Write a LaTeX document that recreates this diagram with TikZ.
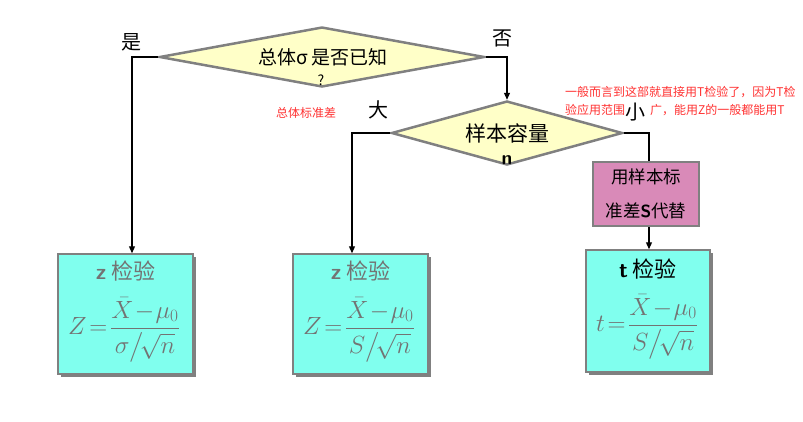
\documentclass[tikz,border=0pt]{standalone}
\usepackage{fontspec}
\usepackage{amsmath}
\usepackage{xcolor}
\setmainfont{Noto Sans CJK SC}
\usetikzlibrary{shapes.geometric,shadows,arrows.meta}

\definecolor{colDiamond}{RGB}{255,255,200}
\definecolor{colTest}{RGB}{128,255,238}
\definecolor{colPink}{RGB}{217,138,184}
\definecolor{colEdge}{RGB}{128,128,128}
\definecolor{colFormula}{RGB}{115,115,115}
\definecolor{colNote}{RGB}{255,50,50}

\begin{document}
\begin{tikzpicture}[x=1pt,y=-1pt,
		decision/.style={diamond,draw=colEdge,line width=2.5pt,fill=colDiamond,inner sep=0pt},
		testbox/.style={rectangle,draw=colEdge,line width=1.5pt,fill=colTest,minimum width=135pt,minimum height=120pt,
			drop shadow={shadow xshift=3pt,shadow yshift=-3pt,fill=colEdge,opacity=1}},
		flow/.style={draw=black,line width=1.2pt,-{Triangle[length=7pt,width=6pt]}},
		big/.style={font=\fontsize{19}{22}\selectfont},
		note/.style={text=colNote,font=\fontsize{12}{14}\selectfont,inner sep=0pt},
		formula/.style={text=colFormula,font=\fontsize{24}{28}\selectfont,inner sep=1pt}]
		\useasboundingbox (0,0) rectangle (803,421);

		% decisions
		\node[decision,minimum width=325pt,minimum height=60pt] (d1) at (322,57) {};
		\node[big] (d1text) at (323,57) {总体σ 是否已知};
		\node[font=\fontsize{14}{16}\selectfont] (d1q) at (321,80) {?};

		\node[decision,minimum width=231pt,minimum height=64pt] (d2) at (507,133) {};
		\node[font=\fontsize{21}{24}\selectfont] (d2text) at (507,133) {样本容量};
		\node[font=\fontsize{19}{22}\selectfont] (d2n) at (507,160) {\textsf{\bfseries n}};

		% pink box
		\node[rectangle,draw=colEdge,line width=2pt,fill=colPink,minimum width=106pt,minimum height=64pt,
			align=center,font=\fontsize{17.5}{34}\selectfont] (sbox) at (646,194) {用样本标\\准差\textsf{\bfseries S}代替};

		% tests
		\node[testbox] (zbox1) at (125.5,314) {};
		\node[testbox] (zbox2) at (360.5,314) {};
		\node[testbox,minimum width=124pt,minimum height=122pt] (tbox) at (648,311) {};

		\node[text=colFormula,font=\fontsize{22}{25}\selectfont] (zt1) at (125.5,271) {\textsf{\bfseries z} 检验};
		\node[formula] (zf1) at (124,330) {$\displaystyle Z\!=\!\frac{\bar{X}\!-\!\mu_0}{\sigma\big/\!\sqrt{n}}$};
		\node[text=colFormula,font=\fontsize{22}{25}\selectfont] (zt2) at (360.5,271) {\textsf{\bfseries z} 检验};
		\node[formula] (zf2) at (359,330) {$\displaystyle Z\!=\!\frac{\bar{X}\!-\!\mu_0}{S\big/\!\sqrt{n}}$};
		\node[font=\fontsize{22}{25}\selectfont] (tt) at (648,269) {\textsf{\bfseries t} 检验};
		\node[formula] (tf) at (647,327) {$\displaystyle t\!=\!\frac{\bar{X}\!-\!\mu_0}{S\big/\!\sqrt{n}}$};

		% connectors
		\draw[flow] (d1.west) -| ([xshift=6.5pt]zbox1.north);
		\draw[flow] (d1.east) -| (d2.north);
		\draw[flow] (d2.west) -| ([xshift=-8.5pt]zbox2.north);
		\draw[line width=1.2pt] (d2.east) -| ([xshift=3pt]sbox.north);
		\draw[flow] ([xshift=3pt]sbox.south) -- ([xshift=3pt]sbox.south |- tbox.north);

		% branch labels
		\node[font=\fontsize{20}{23}\selectfont] (yes) at (131,42) {是};
		\node[font=\fontsize{20}{23}\selectfont] (no) at (502,38) {否};
		\node[font=\fontsize{20}{23}\selectfont] (large) at (378,110) {大};
		\node[font=\fontsize{20}{23}\selectfont] (small) at (635,112) {小};

		% notes
		\node[note] (n1) at (306,113) {总体标准差};
		\node[note,anchor=west] (n2) at (565,92) {一般而言到这部就直接用T检验了，因为T检};
		\node[note,anchor=west] (n3) at (565,110) {验应用范围\hspace{25pt}广，能用Z的一般都能用T};
	\end{tikzpicture}
\end{document}
